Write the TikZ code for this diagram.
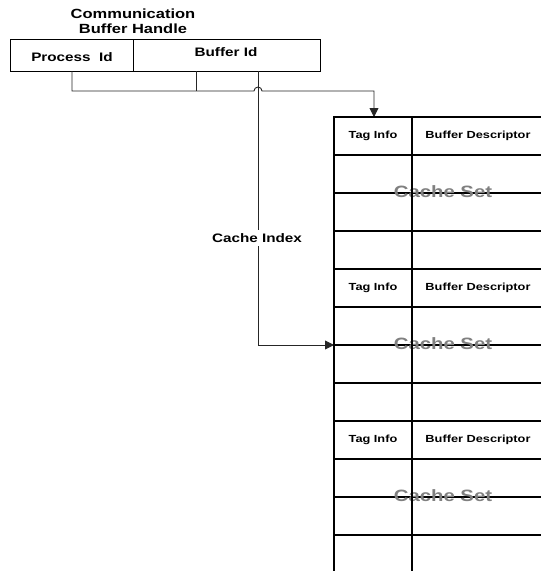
\documentclass[tikz,border=0pt]{standalone}
\usepackage{fontspec}
\setmainfont{Liberation Sans}[FakeStretch=1.24]
\usetikzlibrary{arrows.meta}
\begin{document}
\begin{tikzpicture}[x=1pt,y=-1pt,
  txt/.style={font=\bfseries\fontsize{#1}{#1}\selectfont, inner sep=0pt},
  txt/.default=10.3,
  boxline/.style={line width=0.9pt, draw=black},
  conn/.style={draw=black!85, line width=0.9pt},
  tip/.style={-{Triangle[length=9pt,width=9pt]}},
  rowline/.style={line width=1.1pt},
  setline/.style={line width=1.7pt},
  setlbl/.style={font=\bfseries\fontsize{16.4}{16.4}\selectfont, text=black!50, inner sep=0pt}]
\useasboundingbox (0,0) rectangle (541,571);

% handle title and its two fields
\node[txt=13.3, align=center] (title) at (133,21) {Communication\\[2pt]Buffer Handle};
\draw[boxline] (10,39) rectangle (320,71);
\draw[boxline] (133,39) -- (133,71);
\node[txt=12.3] (pid) at (72,57) {Process\ \ Id};
\node[txt=12.3] (bid) at (226,52) {Buffer Id};

% connector anchors
\coordinate (pidout) at (72,71);
\coordinate (bidout) at (196,71);
\coordinate (idxout) at (258,71);
\coordinate (join) at (196,91);
\coordinate (tabletop) at (374,117);
\coordinate (setentry) at (334,345);

% tag path into the table top, hopping over the index line
\draw[conn,tip] (pidout) -- (72,91) -- (254,91)
  arc[start angle=180, end angle=360, radius=4] -- (374,91) -- (tabletop);
\draw[conn] (bidout) -- (join);

% cache index path into the selected set
\draw[conn,tip] (idxout) -- (258,345) -- (setentry);
\node[txt=12.3, fill=white, inner xsep=1pt, inner ysep=3pt] (cidx) at (257,238) {Cache Index};

% cache table: three sets of a header and three rows
\foreach \s in {0,1,2} {
  \pgfmathsetmacro\yy{117+152*\s}
  \draw[setline] (333,\yy) -- (541,\yy);
  \foreach \k in {1,2,3} {
    \pgfmathsetmacro\yr{\yy+38*\k}
    \draw[rowline] (334,\yr) -- (541,\yr);
  }
  \node[txt] (tag\s) at (373,\yy+18.5) {Tag Info};
  \node[txt] (desc\s) at (478,\yy+18.5) {Buffer Descriptor};
  \node[setlbl] (set\s) at (443,\yy+75) {Cache Set};
}
\draw[line width=1.8pt] (334,116.2) -- (334,571);
\draw[line width=1.3pt] (412,117) -- (412,571);
\end{tikzpicture}
\end{document}
